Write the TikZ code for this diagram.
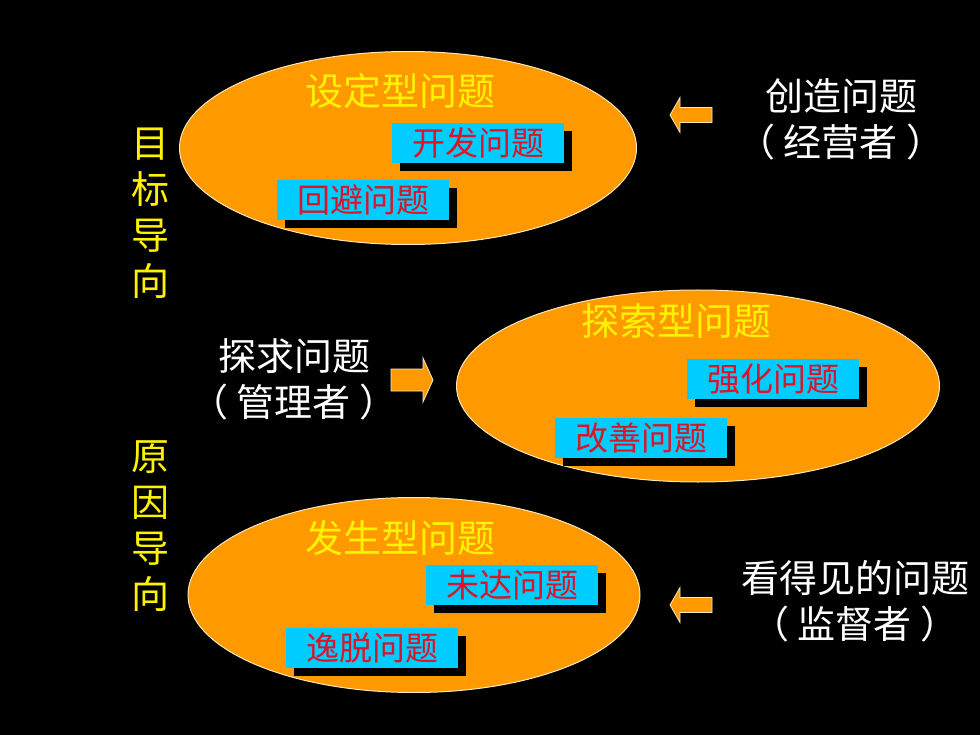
\documentclass[tikz,border=0pt]{standalone}
\usepackage{fontspec}
\setmainfont{Noto Sans CJK SC}
\usetikzlibrary{shapes.geometric,shadows}
\definecolor{probfill}{RGB}{255,153,0}
\definecolor{probedge}{RGB}{255,232,190}
\definecolor{tagcyan}{RGB}{0,204,255}
\definecolor{tagred}{RGB}{220,20,40}

% block arrow: centre, rotation, half shaft, half head
\newcommand*\blockarrow[4]{%
\draw[fill=probfill,draw=probedge,line width=0.8pt,shift={(#1)},rotate=#2]
  (-21,-#3) -- (11,-#3) -- (11,-#4) -- (21,0) -- (11,#4) -- (11,#3) -- (-21,#3) -- cycle;}
% role in wide brackets
\newcommand*\who[1]{（\hspace{9pt}#1\hspace{9pt}）}

\begin{document}
\begin{tikzpicture}[x=1pt,y=-1pt,
  prob/.style={ellipse,draw=probedge,line width=1pt,fill=probfill,inner sep=0pt},
  kind/.style={text=yellow,inner sep=0pt,font=\fontsize{38}{46}\selectfont},
  tag/.style={fill=tagcyan,text=tagred,minimum width=172pt,minimum height=40pt,inner sep=0pt,
    font=\fontsize{33}{40}\selectfont,
    drop shadow={shadow xshift=8pt,shadow yshift=-8pt,fill=black,opacity=1}},
  role/.style={text=white,align=center,inner sep=0pt,font=\fontsize{38}{46}\selectfont},
  side/.style={text=yellow,align=center,inner sep=0pt,font=\fontsize{38}{46}\selectfont}]
\fill[black] (0,0) rectangle (980,735);
\useasboundingbox (0,0) rectangle (980,735);

% set-type problems
\node[prob,minimum width=457pt,minimum height=193pt] (set) at (408,148) {};
\node[kind] (setT) at (400,91) {设定型问题};
\node[tag] (develop) at (478,143) {开发问题};
\node[tag] (avoid) at (363,200) {回避问题};

% search-type problems
\node[prob,minimum width=483pt,minimum height=192pt] (search) at (698,386) {};
\node[kind] (searchT) at (676,321) {探索型问题};
\node[tag] (strengthen) at (773,379) {强化问题};
\node[tag] (improve) at (641,438) {改善问题};

% occurring problems
\node[prob,minimum width=452pt,minimum height=195pt] (occur) at (414,595) {};
\node[kind] (occurT) at (400,538) {发生型问题};
\node[tag] (miss) at (512,585) {未达问题};
\node[tag] (deviate) at (372,648) {逸脱问题};

% side labels
\node[side] (goal) at (150,213) {目\\标\\导\\向};
\node[side] (cause) at (150,526) {原\\因\\导\\向};

% roles
\node[role] (create) at (841,119) {创造问题\\\who{经营者}};
\node[role] (seek) at (294,379) {探求问题\\\who{管理者}};
\node[role] (visible) at (855,601) {看得见的问题\\\who{监督者}};

\blockarrow{691,115}{180}{7.5}{17.5}
\blockarrow{412,380}{0}{11}{22}
\blockarrow{691,605}{180}{7.5}{17.5}
\end{tikzpicture}
\end{document}
